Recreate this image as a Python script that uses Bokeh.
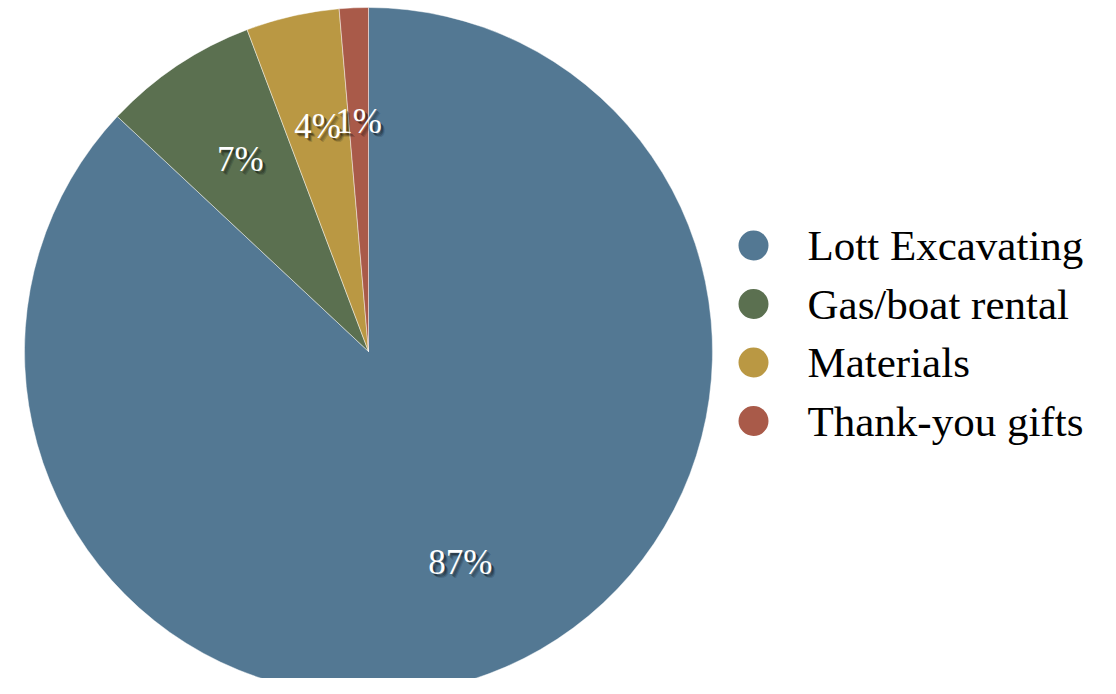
import math
from bokeh.plotting import figure
from bokeh.models import ColumnDataSource, Range1d
from bokeh.core.properties import value
from bokeh.embed import file_html
from bokeh.resources import INLINE

# ---- data ----
categories = ["Lott Excavating", "Gas/boat rental", "Materials", "Thank-you gifts"]
shares = [86.97, 7.29, 4.38, 1.36]
pct_labels = ["87%", "7%", "4%", "1%"]
colors = ["#537893", "#5B7050", "#BA9843", "#A95A49"]

W, H = 1100, 678
cx, cy = 368, H - 351
R = 344
label_r = 0.67 * R

total = sum(shares)
starts, ends, lx, ly = [], [], [], []
cum = 0.0
for s in shares:
    a0 = math.pi / 2 - 2 * math.pi * cum / total
    cum += s
    a1 = math.pi / 2 - 2 * math.pi * cum / total
    starts.append(a1)
    ends.append(a0)
    mid = (a0 + a1) / 2
    lx.append(cx + label_r * math.cos(mid))
    ly.append(cy + label_r * math.sin(mid))

src = ColumnDataSource(dict(cat=categories, share=shares, start=starts, end=ends,
                            color=colors, lab=pct_labels, lx=lx, ly=ly))

p = figure(width=W, height=H, output_backend="svg", toolbar_location=None,
           x_axis_type=None, y_axis_type=None,
           x_range=Range1d(0, W), y_range=Range1d(0, H),
           min_border=0, min_border_left=0, min_border_right=0,
           min_border_top=0, min_border_bottom=0)
p.outline_line_color = None
p.grid.visible = False
p.background_fill_color = "white"
p.border_fill_color = "white"

p.wedge(x=cx, y=cy, radius=R, start_angle="start", end_angle="end",
        fill_color="color", line_color="white", line_alpha=0.45, line_width=1,
        source=src)

font = value("Liberation Serif")
# label shadow
for dx, dy, a in [(4, 4, 0.15), (3, 3, 0.25), (2, 2, 0.3)]:
    p.text(x="lx", y="ly", text="lab", source=src, x_offset=dx, y_offset=dy,
           text_font=font, text_font_size="35px", text_color="black", text_alpha=a,
           text_align="center", text_baseline="middle")
p.text(x="lx", y="ly", text="lab", source=src,
       text_font=font, text_font_size="35px", text_color="white",
       text_align="center", text_baseline="middle")

# legend drawn as glyphs
leg_y_img = [245, 303.5, 362, 420.5]
leg_y = [H - v for v in leg_y_img]
leg_src = ColumnDataSource(dict(y=leg_y, cat=categories, color=colors,
                                x=[753] * 4, tx=[807] * 4))
p.scatter(x="x", y="y", size=30, marker="circle", fill_color="color",
          line_color=None, source=leg_src)
p.text(x="tx", y="y", text="cat", source=leg_src, text_font=font,
       text_font_size="43px", text_color="black", text_align="left",
       text_baseline="middle")

open("out.html", "w").write(file_html(p, INLINE))
